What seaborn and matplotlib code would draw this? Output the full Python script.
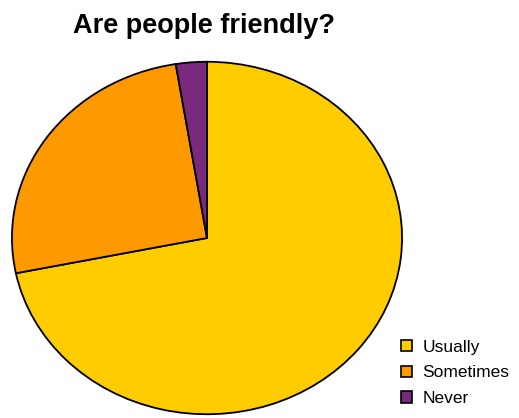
# Are people friendly? - pie chart of survey answers
import numpy as np
import seaborn as sns
import matplotlib.pyplot as plt
from matplotlib.patches import Patch

labels = ['Usually', 'Sometimes', 'Never']
counts = [28, 10, 1]
colors = ['#FFCC00', '#FF9900', '#7A2A7C']

sns.set_style('white')
plt.rcParams['font.family'] = ['Liberation Sans', 'DejaVu Sans']
plt.rcParams['text.color'] = 'black'

fig = plt.figure(figsize=(5.19, 4.18), dpi=100)
# pie is a bit wider than tall in the original, so use aspect auto
ax = fig.add_axes([10 / 519, 2 / 418, 394 / 519, 356 / 418])
ax.pie(counts, colors=colors, startangle=90, counterclock=False,
       wedgeprops=dict(edgecolor='black', linewidth=1.3))
ax.set_aspect('auto')
ax.set_xlim(-1.01, 1.01)
ax.set_ylim(-1.01, 1.01)
ax.axis('off')

fig.text(204 / 519, 1 - 26 / 418, 'Are people friendly?', ha='center', va='center',
         fontsize=19.5, fontweight='bold')

handles = [Patch(facecolor=c, edgecolor='black', linewidth=1.2) for c in colors]
fig.legend(handles, labels, loc='upper left', bbox_to_anchor=(392 / 519, 1 - 331 / 418),
           frameon=False, fontsize=12.5, handlelength=0.65, handleheight=0.65,
           handletextpad=0.6, labelspacing=0.62, borderpad=0)

fig.savefig('out.png', dpi=100)
